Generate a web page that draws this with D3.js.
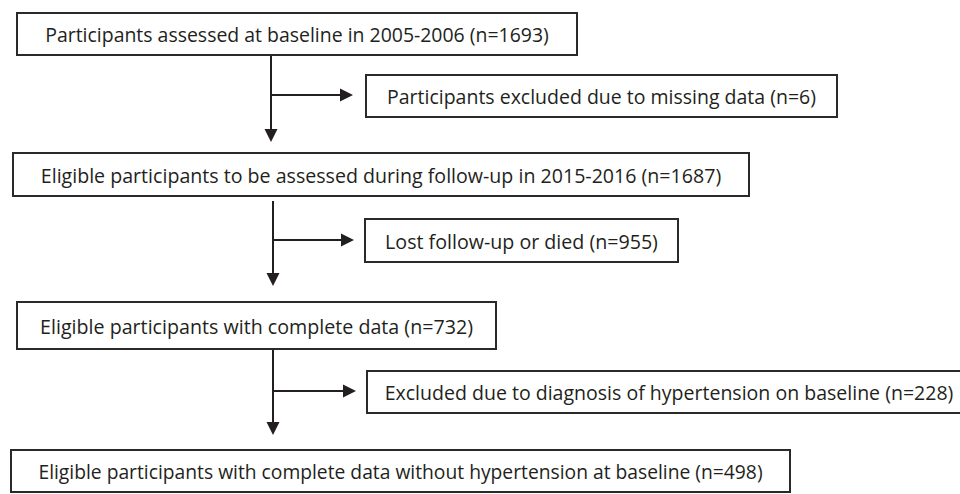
<!DOCTYPE html>
<html lang="en">
<head>
<meta charset="UTF-8">
<title>Flow diagram</title>
<script src="https://d3js.org/d3.v7.min.js"></script>
<style>
  html, body { margin: 0; padding: 0; background: #fff; }
  svg { display: block; }
  text { font-family: "Open Sans", "Liberation Sans", sans-serif; font-size: 20.5px; fill: #231f20; }
  rect.box { fill: #fff; stroke: #2a2a2a; stroke-width: 2px; }
  line.flow { stroke: #231f20; stroke-width: 2px; }
  path.head { fill: #231f20; }
</style>
</head>
<body>
<script>
// stage labels and participant counts
var labels = [
  "Participants assessed at baseline in 2005-2006",
  "Participants excluded due to missing data",
  "Eligible participants to be assessed during follow-up in 2015-2016",
  "Lost follow-up or died",
  "Eligible participants with complete data",
  "Excluded due to diagnosis of hypertension on baseline",
  "Eligible participants with complete data without hypertension at baseline"
];
var counts = [1693, 6, 1687, 955, 732, 228, 498];

// layout: box rectangle and width of its text line (px)
var boxes = [
  {x: 17,  y: 13,  w: 560, h: 42, tw: 504},
  {x: 366, y: 75,  w: 471, h: 42, tw: 429},
  {x: 13,  y: 153, w: 736, h: 43, tw: 681},
  {x: 365, y: 219, w: 313, h: 43, tw: 273},
  {x: 17,  y: 302, w: 479, h: 47, tw: 433},
  {x: 367, y: 371, w: 604, h: 42, tw: 569},
  {x: 11,  y: 450, w: 779, h: 42, tw: 725}
];

// connectors: main stem down, side branch to the right
var stems = [
  {x: 271, y0: 55,  tip: 142, by: 95,  bx: 353},
  {x: 273, y0: 201, tip: 286, by: 240, bx: 354},
  {x: 273, y0: 350, tip: 435, by: 391, bx: 356}
];

var width = 960, height = 494;
var svg = d3.select("body").append("svg").attr("width", width).attr("height", height);

var head = 13;

var links = svg.append("g").attr("class", "links");
stems.forEach(function(s) {
  links.append("line").attr("class", "flow")
    .attr("x1", s.x).attr("y1", s.y0).attr("x2", s.x).attr("y2", s.tip - head + 1);
  links.append("path").attr("class", "head")
    .attr("d", "M" + (s.x - 6.5) + "," + (s.tip - head) + "L" + (s.x + 6.5) + "," + (s.tip - head) + "L" + s.x + "," + s.tip + "Z");
  links.append("line").attr("class", "flow")
    .attr("x1", s.x).attr("y1", s.by).attr("x2", s.bx - head + 1).attr("y2", s.by);
  links.append("path").attr("class", "head")
    .attr("d", "M" + (s.bx - head) + "," + (s.by - 6.5) + "L" + (s.bx - head) + "," + (s.by + 6.5) + "L" + s.bx + "," + s.by + "Z");
});

var nodes = svg.append("g").attr("class", "nodes")
  .selectAll("g").data(labels).join("g");

nodes.append("rect").attr("class", "box")
  .attr("x", function(d, i) { return boxes[i].x; })
  .attr("y", function(d, i) { return boxes[i].y; })
  .attr("width", function(d, i) { return boxes[i].w; })
  .attr("height", function(d, i) { return boxes[i].h; });

// text is squeezed horizontally to the measured width of the narrow original face
nodes.append("text")
  .attr("text-anchor", "middle")
  .text(function(d, i) { return d + " (n=" + counts[i] + ")"; })
  .attr("transform", function(d, i) {
    var b = boxes[i];
    var sx = b.tw / this.getComputedTextLength();
    return "translate(" + (b.x + b.w / 2) + "," + (b.y + b.h / 2 + 8) + ") scale(" + sx + ",1)";
  });
</script>
</body>
</html>
